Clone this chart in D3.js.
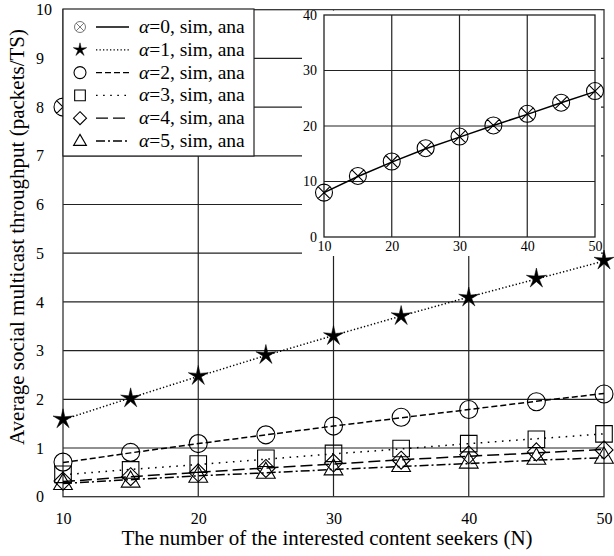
<!DOCTYPE html>
<html>
<head>
<meta charset="utf-8">
<script src="https://cdn.jsdelivr.net/npm/d3@7"></script>
<style>
  body { margin: 0; background: #fff; }
  svg { display: block; }
  svg text { font-family: "Liberation Serif", "Times New Roman", serif; fill: #000; }
</style>
</head>
<body>
<svg width="614" height="556"></svg>
<script>
// number of interested content seekers
const N = [10, 15, 20, 25, 30, 35, 40, 45, 50];

// simulation (markers) and analysis (lines), one pair per alpha
const sim0 = [8.0, 11.0, 13.6, 16.0, 18.1, 20.1, 22.2, 24.2, 26.3];
const ana0 = [8.0, 10.9, 13.5, 15.9, 18.0, 20.1, 22.1, 24.2, 26.2];
const sim1 = [1.59, 2.02, 2.48, 2.91, 3.30, 3.71, 4.09, 4.48, 4.85];
const ana1 = [1.58, 2.03, 2.47, 2.90, 3.31, 3.71, 4.10, 4.47, 4.84];
const sim2 = [0.71, 0.91, 1.09, 1.27, 1.45, 1.63, 1.79, 1.95, 2.11];
const ana2 = [0.70, 0.90, 1.09, 1.27, 1.45, 1.62, 1.79, 1.96, 2.12];
const sim3 = [0.46, 0.55, 0.67, 0.79, 0.89, 0.99, 1.09, 1.18, 1.29];
const ana3 = [0.45, 0.56, 0.66, 0.77, 0.88, 0.98, 1.09, 1.19, 1.29];
const sim4 = [0.32, 0.41, 0.49, 0.58, 0.69, 0.75, 0.86, 0.92, 0.96];
const ana4 = [0.31, 0.41, 0.50, 0.59, 0.67, 0.76, 0.83, 0.90, 0.97];
const sim5 = [0.28, 0.33, 0.43, 0.51, 0.58, 0.65, 0.72, 0.80, 0.82];
const ana5 = [0.27, 0.35, 0.43, 0.49, 0.56, 0.62, 0.68, 0.75, 0.80];

const alphas = [0, 1, 2, 3, 4, 5];
const markers = ["circlex", "star", "circle", "square", "diamond", "triangle"];
const dashes = [null, "1.3,2.2", "6,3", "1.6,5.5", "12,5", "9,3,2,3"];

const xTicks = [10, 20, 30, 40, 50];
const yTicks = [0, 1, 2, 3, 4, 5, 6, 7, 8, 9, 10];
const insetYTicks = [0, 10, 20, 30, 40];

const series = alphas.map((a, i) => ({
  alpha: a,
  sim: [sim0, sim1, sim2, sim3, sim4, sim5][i],
  ana: [ana0, ana1, ana2, ana3, ana4, ana5][i],
  marker: markers[i],
  dash: dashes[i]
}));

var svg = d3.select("svg");
var serif = "Liberation Serif";

// marker shapes, centred on 0,0
function markerPath(type, s) {
  var p = d3.path();
  if (type === "circle" || type === "circlex") {
    p.arc(0, 0, s, 0, 2 * Math.PI);
    if (type === "circlex") {
      var k = s * Math.SQRT1_2;
      p.moveTo(-k, -k); p.lineTo(k, k);
      p.moveTo(-k, k); p.lineTo(k, -k);
    }
  } else if (type === "square") {
    p.rect(-s * 0.92, -s * 0.92, s * 1.84, s * 1.84);
  } else if (type === "diamond") {
    p.moveTo(0, -s); p.lineTo(s, 0); p.lineTo(0, s); p.lineTo(-s, 0); p.closePath();
  } else if (type === "triangle") {
    var h = s * 1.7;
    p.moveTo(0, -h * 0.6); p.lineTo(h * 0.58, h * 0.4); p.lineTo(-h * 0.58, h * 0.4); p.closePath();
  } else if (type === "star") {
    var inner = s * 0.3;
    for (var j = 0; j < 10; j++) {
      var r = j % 2 ? inner : s;
      var ang = -Math.PI / 2 + j * Math.PI / 5;
      if (j === 0) p.moveTo(r * Math.cos(ang), r * Math.sin(ang));
      else p.lineTo(r * Math.cos(ang), r * Math.sin(ang));
    }
    p.closePath();
  }
  return p.toString();
}

function drawMarker(g, type, s) {
  g.append("path")
    .attr("d", markerPath(type, s))
    .attr("fill", type === "star" ? "#000" : "none")
    .attr("stroke", "#000")
    .attr("stroke-width", type === "star" ? 0.5 : 1.1);
}

/** main plot **/
var x = d3.scaleLinear().domain([10, 50]).range([63, 604]);
var y = d3.scaleLinear().domain([0, 10]).range([496.7, 9.7]);

var grid = svg.append("g").attr("class", "grid");
grid.selectAll("line.h")
  .data(yTicks.slice(1, -1))
  .enter().append("line")
  .attr("x1", x(10)).attr("x2", x(50))
  .attr("y1", d => y(d)).attr("y2", d => y(d))
  .attr("stroke", "#222").attr("stroke-width", 1.2);
grid.selectAll("line.v")
  .data(xTicks.slice(1, -1))
  .enter().append("line")
  .attr("x1", d => x(d)).attr("x2", d => x(d))
  .attr("y1", y(0)).attr("y2", y(10))
  .attr("stroke", "#222").attr("stroke-width", 1.2);

svg.append("rect")
  .attr("x", x(10)).attr("y", y(10))
  .attr("width", x(50) - x(10)).attr("height", y(0) - y(10))
  .attr("fill", "none").attr("stroke", "#333").attr("stroke-width", 1.3);

svg.append("clipPath").attr("id", "mainclip")
  .append("rect")
  .attr("x", x(10) - 12).attr("y", y(10))
  .attr("width", x(50) - x(10) + 24).attr("height", y(0) - y(10) + 12);

var plot = svg.append("g").attr("clip-path", "url(#mainclip)");

var line = d3.line()
  .x((d, i) => x(N[i]))
  .y(d => y(d));

series.forEach(s => {
  plot.append("path")
    .attr("d", line(s.ana))
    .attr("fill", "none")
    .attr("stroke", "#000")
    .attr("stroke-width", 1.5)
    .attr("stroke-dasharray", s.dash);
});

var markerSize = { circlex: 9, star: 10.5, circle: 9, square: 9, diamond: 9, triangle: 9.5 };
series.forEach(s => {
  s.sim.forEach((v, i) => {
    var g = plot.append("g").attr("transform", "translate(" + x(N[i]) + "," + y(v) + ")");
    drawMarker(g, s.marker, markerSize[s.marker]);
  });
});

// axes
var xAxis = svg.append("g")
  .attr("transform", "translate(0," + y(0) + ")")
  .call(d3.axisBottom(x).tickValues(xTicks).tickSize(0).tickPadding(16));
xAxis.select(".domain").remove();
xAxis.selectAll("text").attr("font-size", 16).attr("font-family", serif).attr("fill", "#000");

var yAxis = svg.append("g")
  .attr("transform", "translate(" + x(10) + ",0)")
  .call(d3.axisLeft(y).tickValues(yTicks).tickSize(0));
yAxis.select(".domain").remove();
yAxis.selectAll("text")
  .attr("text-anchor", "start").attr("x", -27)
  .attr("font-size", 16).attr("font-family", serif).attr("fill", "#000");

svg.append("text")
  .attr("x", 327).attr("y", 545)
  .attr("text-anchor", "middle")
  .attr("font-family", serif)
  .attr("font-size", 21)
  .text("The number of the interested content seekers (N)");

svg.append("text")
  .attr("transform", "translate(24,237) rotate(-90)")
  .attr("text-anchor", "middle")
  .attr("font-family", serif)
  .attr("font-size", 21)
  .text("Average social multicast throughput (packets/TS)");

/** inset **/
var ix = d3.scaleLinear().domain([10, 50]).range([324, 595]);
var iy = d3.scaleLinear().domain([0, 40]).range([237, 15]);

svg.append("rect")
  .attr("x", 302).attr("y", y(10) + 1)
  .attr("width", 299).attr("height", 255 - y(10))
  .attr("fill", "#fff");

var inset = svg.append("g");
inset.selectAll("line.h")
  .data(insetYTicks.slice(1, -1))
  .enter().append("line")
  .attr("x1", ix(10)).attr("x2", ix(50))
  .attr("y1", d => iy(d)).attr("y2", d => iy(d))
  .attr("stroke", "#222").attr("stroke-width", 1.2);
inset.selectAll("line.v")
  .data(xTicks.slice(1, -1))
  .enter().append("line")
  .attr("x1", d => ix(d)).attr("x2", d => ix(d))
  .attr("y1", iy(0)).attr("y2", iy(40))
  .attr("stroke", "#222").attr("stroke-width", 1.2);
inset.append("rect")
  .attr("x", ix(10)).attr("y", iy(40))
  .attr("width", ix(50) - ix(10)).attr("height", iy(0) - iy(40))
  .attr("fill", "none").attr("stroke", "#222").attr("stroke-width", 1.3);

var iline = d3.line()
  .x((d, i) => ix(N[i]))
  .y(d => iy(d));
inset.append("path")
  .attr("d", iline(ana0))
  .attr("fill", "none").attr("stroke", "#000").attr("stroke-width", 1.5);
sim0.forEach((v, i) => {
  var g = inset.append("g").attr("transform", "translate(" + ix(N[i]) + "," + iy(v) + ")");
  drawMarker(g, "circlex", 8.5);
});

var ixAxis = inset.append("g")
  .attr("transform", "translate(0," + iy(0) + ")")
  .call(d3.axisBottom(ix).tickValues(xTicks).tickSize(0).tickPadding(4));
ixAxis.select(".domain").remove();
ixAxis.selectAll("text").attr("font-size", 14).attr("font-family", serif).attr("fill", "#000");

var iyAxis = inset.append("g")
  .attr("transform", "translate(" + ix(10) + ",0)")
  .call(d3.axisLeft(iy).tickValues(insetYTicks).tickSize(0).tickPadding(7));
iyAxis.select(".domain").remove();
iyAxis.selectAll("text").attr("font-size", 14).attr("font-family", serif).attr("fill", "#000");

/** legend **/
var legend = svg.append("g");
legend.append("rect")
  .attr("x", 63).attr("y", 9)
  .attr("width", 191).attr("height", 147)
  .attr("fill", "#fff").attr("stroke", "#222").attr("stroke-width", 1.2);

var legendSize = { circlex: 5.5, star: 7, circle: 6, square: 5.8, diamond: 6.5, triangle: 6.5 };
series.forEach((s, i) => {
  var ly = 27 + i * 22.8;
  var g = legend.append("g").attr("transform", "translate(80," + ly + ")");
  drawMarker(g, s.marker, legendSize[s.marker]);
  if (s.marker === "circlex") g.select("path").attr("stroke", "#555").attr("stroke-width", 0.8);
  legend.append("line")
    .attr("x1", 96).attr("x2", 129)
    .attr("y1", ly).attr("y2", ly)
    .attr("stroke", "#000").attr("stroke-width", 1.3)
    .attr("stroke-dasharray", s.dash);
  var t = legend.append("text")
    .attr("x", 139).attr("y", ly + 6)
    .attr("font-family", serif)
    .attr("font-size", 19.5);
  t.append("tspan").attr("font-style", "italic").text("\u03b1");
  t.append("tspan").text("=" + s.alpha + ", sim, ana");
});
</script>
</body>
</html>
